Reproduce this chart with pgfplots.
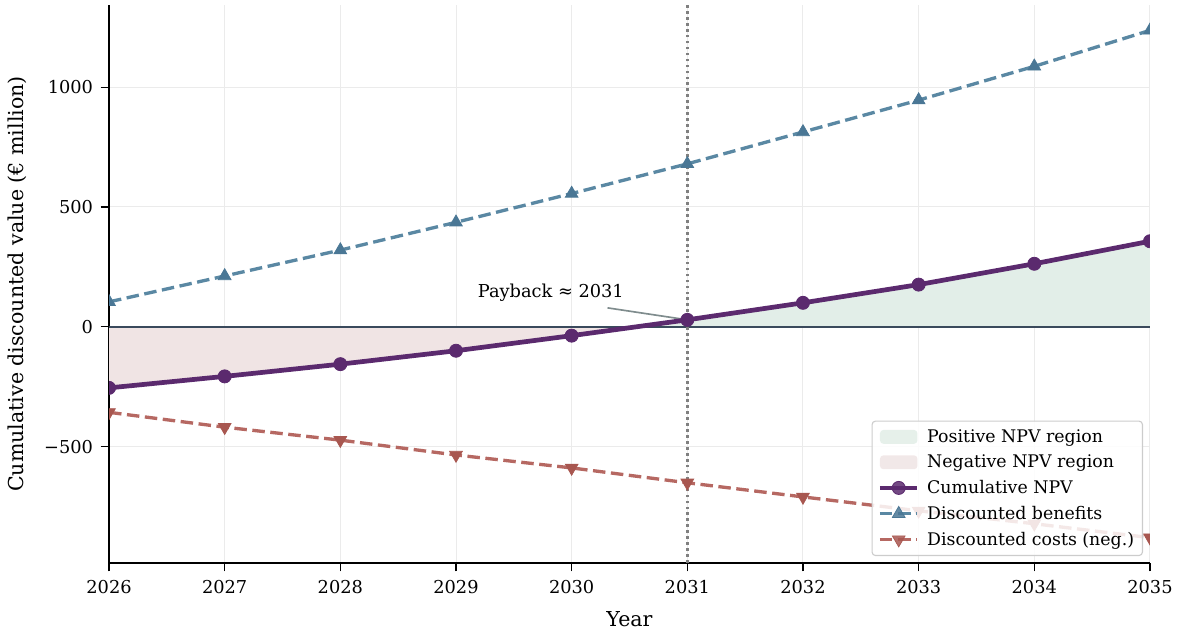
\documentclass[border=0pt]{standalone}
\usepackage{fontspec}
\setmainfont{DejaVu Serif}
\usepackage{pgfplots}
\pgfplotsset{compat=1.18}
\usepgfplotslibrary{fillbetween}
\definecolor{npvc}{HTML}{5B2A6E}
\definecolor{benc}{HTML}{5A88A3}
\definecolor{benm}{HTML}{4A7795}
\definecolor{costc}{HTML}{B66862}
\definecolor{costm}{HTML}{A85750}
\definecolor{posfill}{HTML}{E2EEE8}
\definecolor{negfill}{HTML}{F0E4E4}
\definecolor{zeroc}{HTML}{3A4A5C}
\definecolor{gridc}{HTML}{EBEBEB}
\definecolor{legbord}{HTML}{CCCCCC}
\definecolor{annc}{HTML}{7F8C8D}
\pgfplotsset{
  myarea/.style={legend image code/.code={\path[draw=none,fill=none] (0pt,-0.1pt) rectangle (32pt,0.1pt); \fill[##1, draw=none] (0pt,-5pt) rectangle (27pt,5pt);}},
  myline/.style={legend image code/.code={\path[draw=none,fill=none] (0pt,-0.1pt) rectangle (32pt,0.1pt); \draw[mark repeat=2,mark phase=2,##1] plot coordinates {(0pt,0pt) (13.5pt,0pt) (27pt,0pt)};}},
  npvstyle/.style={color=npvc, line width=3.4pt, mark=*, mark size=4.7pt, mark options={solid, line width=0.6pt, fill=npvc}},
  benstyle/.style={color=benc, line width=2.4pt, dash pattern=on 9pt off 4pt, mark=triangle*, mark size=5.3pt, mark options={solid, line width=0.5pt, fill=benm, draw=benm}},
  coststyle/.style={color=costc, line width=2.4pt, dash pattern=on 9pt off 4pt, mark=triangle*, mark size=5.3pt, mark options={solid, rotate=180, line width=0.5pt, fill=costm, draw=costm}},
}
\pgfplotstableread{
year npv benefits costs
2026 -255 104 -357
2027 -207 212 -419
2028 -156 320 -473
2029 -100 436 -535
2030 -37 556 -589
2031 29 680 -651
2032 100 813 -710
2033 176 946 -768
2034 263 1087 -822
2035 357 1237 -880
}\datatable
\begin{document}
\begin{tikzpicture}[font=\fontsize{12.8}{15.4}\selectfont]
\begin{axis}[name=ax, scale only axis, width=749.5pt, height=401.8pt,
  xmin=2026, xmax=2035, ymin=-986, ymax=1343,
  axis x line*=bottom, axis y line*=left,
  axis line style={line width=0.8pt, black, -},
  xtick={2026,2027,2028,2029,2030,2031,2032,2033,2034,2035},
  xticklabels={2026,2027,2028,2029,2030,2031,2032,2033,2034,2035},
  ytick={-500,0,500,1000}, yticklabels={−500,0,500,1000},
  tick align=outside, major tick length=6pt, tick style={black, line width=0.8pt},
  grid=major, grid style={line width=0.7pt, color=gridc},
  xlabel={Year}, ylabel={Cumulative discounted value (€ million)},
  tick label style={font=\fontsize{12.8}{15.4}\selectfont},
  xticklabel style={yshift=-3pt},
  yticklabel style={xshift=-2pt},
  label style={font=\fontsize{14.8}{17.8}\selectfont},
  xlabel shift=6pt, ylabel shift=6pt,
  clip marker paths=true,
  legend cell align=left,
  legend style={at={(1,0)}, anchor=south east, xshift=-5pt, yshift=5pt,
    draw=legbord, line width=0.8pt, rounded corners=2.5pt, fill=white, fill opacity=0.85, text opacity=1,
    font=\fontsize{12.5}{15}\selectfont, row sep=3.6pt, inner xsep=4pt, inner ysep=4pt},
]
\addlegendimage{myarea, fill=posfill}
\addlegendentry{Positive NPV region}
\addlegendimage{myarea, fill=negfill}
\addlegendentry{Negative NPV region}
\addlegendimage{myline, npvstyle}
\addlegendentry{Cumulative NPV}
\addlegendimage{myline, benstyle}
\addlegendentry{Discounted benefits}
\addlegendimage{myline, coststyle}
\addlegendentry{Discounted costs (neg.)}

\addplot[forget plot, draw=none, name path=npvpath] table[x=year, y=npv] {\datatable};
\addplot[forget plot, draw=none, name path=zeropath] coordinates {(2026,0) (2035,0)};
\addplot[forget plot] fill between[of=npvpath and zeropath, split,
  every segment no 0/.style={fill=negfill},
  every segment no 1/.style={fill=posfill}];
\addplot[forget plot, color=zeroc, line width=1.3pt] coordinates {(2026,0) (2035,0)};
\addplot[forget plot, color=gray, line width=2pt, dash pattern=on 2pt off 2.3pt] coordinates {(2031,-986) (2031,1343)};
\addplot[forget plot, benstyle] table[x=year, y=benefits] {\datatable};
\addplot[forget plot, coststyle] table[x=year, y=costs] {\datatable};
\draw[color=annc, line width=1.2pt] (axis cs:2030.31,79) -- (axis cs:2031,29);
\node at (axis cs:2029.82,141) {Payback ≈ 2031};
\addplot[forget plot, npvstyle] table[x=year, y=npv] {\datatable};
\end{axis}
\pgfresetboundingbox
\path[use as bounding box] ([xshift=-78.5pt,yshift=-49.7pt]ax.south west) rectangle ([xshift=23.8pt,yshift=3.6pt]ax.north east);
\end{tikzpicture}
\end{document}
